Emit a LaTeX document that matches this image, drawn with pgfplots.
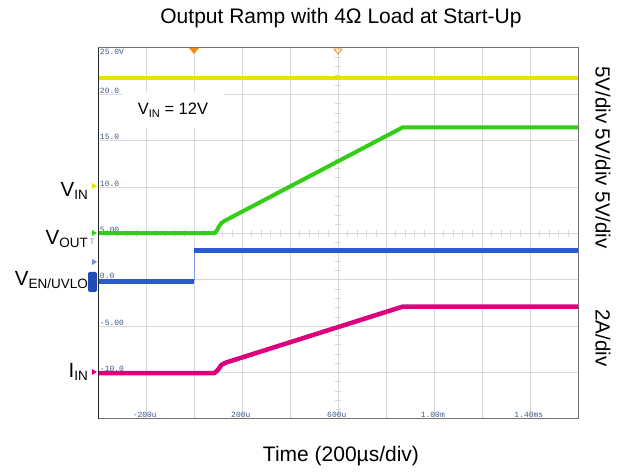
\documentclass[border=0pt]{standalone}
\usepackage{pgfplots}
\pgfplotsset{compat=1.18}
\usepackage{fontspec}
\setmainfont{Liberation Sans}
\newfontfamily\scopefont{Liberation Mono}
\definecolor{scyellow}{RGB}{228,228,0}
\definecolor{scgreen}{RGB}{50,205,20}
\definecolor{scblue}{RGB}{40,90,210}
\definecolor{scpink}{RGB}{220,0,125}
\definecolor{gridc}{RGB}{215,215,215}
\definecolor{tickc}{RGB}{60,90,140}
\definecolor{scorange}{RGB}{240,140,20}
\newcommand{\lbl}[2]{{\fontsize{20.5}{20.5}\selectfont #1\raisebox{-3pt}{\fontsize{13.5}{13.5}\selectfont #2}}}
\begin{document}
\begin{tikzpicture}
\useasboundingbox (0pt,0pt) rectangle (618pt,473pt);
\begin{axis}[
  at={(98pt,54pt)}, anchor=south west, scale only axis,
  width=480pt, height=371pt,
  xmin=-400, xmax=1600, ymin=-15, ymax=25,
  xtick={-200,0,200,400,600,800,1000,1200,1400},
  ytick={-10,-5,0,5,10,15,20},
  xticklabels={}, yticklabels={},
  major tick length=0pt,
  grid=major, grid style={gridc, line width=0.8pt},
  axis line style={black!55, line width=1pt},
]
% minor ticks on centre lines
\pgfplotsinvokeforeach{-360,-320,...,1560}{\draw[gridc, line width=0.8pt] (axis cs:#1,4.65) -- (axis cs:#1,5.35);}
\pgfplotsinvokeforeach{-14,-13,...,24}{\draw[gridc, line width=0.8pt] (axis cs:587,#1) -- (axis cs:613,#1);}
% VIN = 12V box
\node[fill=white, minimum width=102pt, minimum height=36pt, inner sep=0pt] at (axis cs:-87.5,18.3)
  {{\fontsize{16.5}{16.5}\selectfont V\raisebox{-2.5pt}{\fontsize{11}{11}\selectfont IN} = 12V}};
% scope tick labels
\begin{scope}[every node/.style={text=tickc, font=\scopefont\fontsize{8}{8}\selectfont, inner sep=0.8pt}]
\node[anchor=north west] at (axis cs:-396,25) {25.0V};
\node[anchor=base west] at (axis cs:-396,20.1) {20.0};
\node[anchor=base west] at (axis cs:-396,15.1) {15.0};
\node[anchor=base west] at (axis cs:-396,10.1) {10.0};
\node[anchor=base west] at (axis cs:-396,5.1) {5.00};
\node[anchor=base west] at (axis cs:-396,0.1) {0.0};
\node[anchor=base west] at (axis cs:-396,-4.9) {-5.00};
\node[anchor=base west] at (axis cs:-396,-9.9) {-10.0};
\node[anchor=south] at (axis cs:-205,-15) {-200u};
\node[anchor=south] at (axis cs:195,-15) {200u};
\node[anchor=south] at (axis cs:595,-15) {600u};
\node[anchor=south] at (axis cs:995,-15) {1.00m};
\node[anchor=south] at (axis cs:1395,-15) {1.40ms};
\end{scope}
% traces
\addplot[scyellow, line width=4pt] coordinates {(-400,21.8) (1600,21.8)};
\addplot[scgreen, line width=4pt, line join=round] coordinates {
  (-400,5.05) (85,5.05) (95,5.3) (105,5.8) (115,6.15) (130,6.4) (870,16.45) (1600,16.45)};
\addplot[scblue!60, line width=1pt] coordinates {(0,-0.15) (0,3.15)};
\addplot[scblue, line width=4.5pt] coordinates {(-400,-0.15) (0,-0.15)};
\addplot[scblue, line width=4.5pt] coordinates {(0,3.15) (1600,3.15)};
\addplot[scpink, line width=4.5pt, line join=round] coordinates {
  (-400,-10.05) (85,-10.05) (100,-9.7) (115,-9.15) (135,-8.9) (870,-2.88) (1600,-2.88)};
\end{axis}
% left edge dark line
\draw[black!85, line width=1pt] (98pt,54pt) -- (98pt,425pt);
% channel markers (decoration)
\fill[scyellow] (97pt,287pt) -- (92pt,290pt) -- (92pt,284pt) -- cycle;
\fill[scgreen] (97pt,240pt) -- (92pt,243pt) -- (92pt,237pt) -- cycle;
\node[text=scblue!70, font=\fontsize{8}{8}\selectfont, inner sep=0pt] at (92pt,231pt) {T};
\fill[scblue!70] (97pt,211pt) -- (92pt,214pt) -- (92pt,208pt) -- cycle;
\fill[scblue!85!black, rounded corners=1.5pt] (88pt,181pt) rectangle (97pt,201pt);
\fill[scpink] (97pt,101pt) -- (92pt,104pt) -- (92pt,98pt) -- cycle;
% trigger markers
\fill[scorange] (194pt,419pt) -- (189pt,425pt) -- (199pt,425pt) -- cycle;
\draw[scorange, line width=0.8pt] (338pt,419pt) -- (334pt,424pt) -- (342pt,424pt) -- cycle;
% channel labels
\node[anchor=base east, inner sep=0pt] at (88pt,276pt) {\lbl{V}{IN}};
\node[anchor=base east, inner sep=0pt] at (88pt,228pt) {\lbl{V}{OUT}};
\node[anchor=base east, inner sep=0pt] at (88pt,187pt) {\lbl{V}{EN/UVLO}};
\node[anchor=base east, inner sep=0pt] at (88pt,95pt) {\lbl{I}{IN}};
% right labels
\node[rotate=-90, font=\fontsize{20.5}{20.5}\selectfont] at (603pt,315.5pt) {5V/div 5V/div 5V/div};
\node[rotate=-90, font=\fontsize{20.5}{20.5}\selectfont] at (603pt,135pt) {2A/div};
% title and x label
\node[font=\fontsize{21}{21}\selectfont] at (341pt,455pt) {Output Ramp with 4Ω Load at Start-Up};
\node[font=\fontsize{21}{21}\selectfont] at (341pt,17pt) {Time (200µs/div)};
\end{tikzpicture}
\end{document}
